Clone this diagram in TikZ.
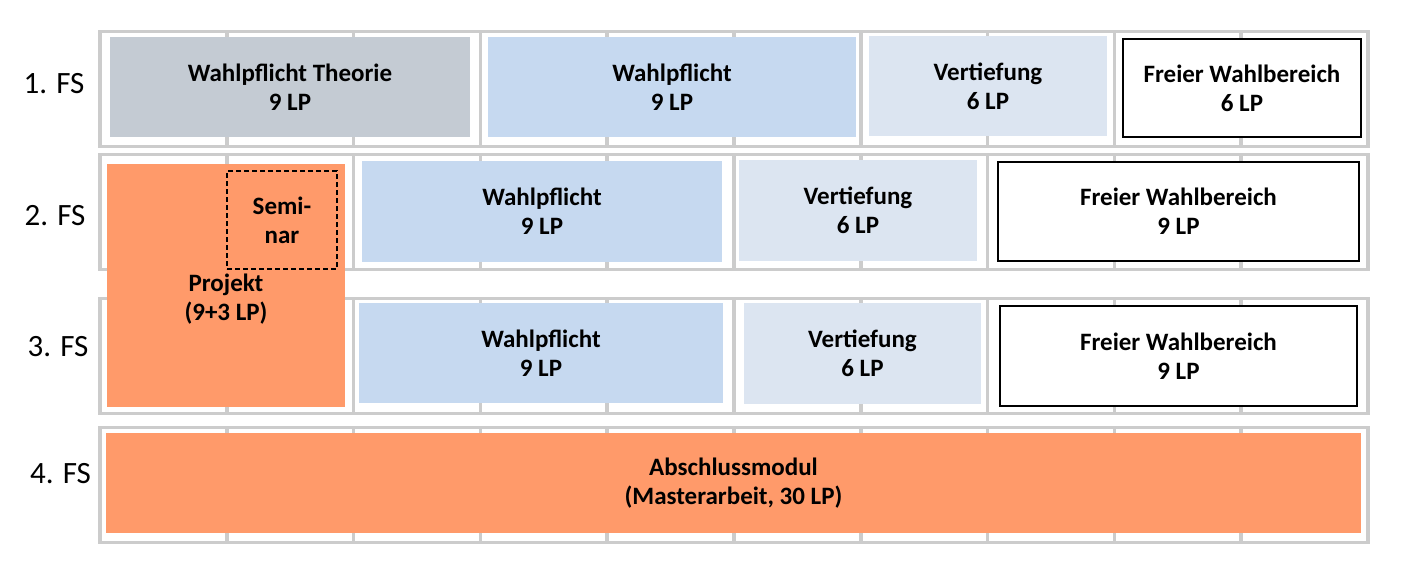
\documentclass[tikz,border=0pt]{standalone}
\usepackage{fontspec}
\setmainfont{Carlito}
\usepackage{tikz}
\definecolor{rastergrau}{HTML}{CCCCCC}
\definecolor{theoriegrau}{HTML}{C4CBD3}
\definecolor{wpblau}{HTML}{C6D9F0}
\definecolor{vtblau}{HTML}{DCE5F1}
\definecolor{projorange}{HTML}{FF9A6A}

\begin{document}
\begin{tikzpicture}[
  x=1pt,y=-1pt,
  raster/.style={draw=rastergrau,line width=3.5pt},
  modul/.style={inner sep=0pt,align=center,
               font=\fontsize{25}{29}\selectfont\bfseries},
  theorie/.style={modul,fill=theoriegrau},
  wahlpflicht/.style={modul,fill=wpblau},
  vertiefung/.style={modul,fill=vtblau},
  freiwahl/.style={modul,fill=white,draw=black,line width=2pt},
  orangebox/.style={modul,fill=projorange},
  seminarbox/.style={modul,draw=black,line width=2pt,dash pattern=on 5pt off 3pt},
  semester/.style={anchor=base,font=\fontsize{31}{37}\selectfont}
]
\useasboundingbox (0,0) rectangle (1419,560);

% Raster der Semesterzeilen
\foreach \ytop in {31.5,154.5,298.5,427.5}{
  \draw[raster] (100,\ytop) rectangle (1368,\ytop+115);
  \foreach \i in {1,...,9}
    \draw[raster] ({100+126.8*\i},\ytop) -- ++(0,115);
}

% Semesterbeschriftung
\node[semester] (fs1) at (54,93) {1. FS};
\node[semester] (fs2) at (55,225) {2. FS};
\node[semester] (fs3) at (58,356) {3. FS};
\node[semester] (fs4) at (60.5,483) {4. FS};

% 1. FS
\node[theorie,minimum width=360pt,minimum height=100pt] (wpt1) at (290,87) {Wahlpflicht Theorie\\9 LP};
\node[wahlpflicht,minimum width=368pt,minimum height=100pt] (wp1) at (672,87) {Wahlpflicht\\9 LP};
\node[vertiefung,minimum width=238pt,minimum height=100pt] (vt1) at (988,86) {Vertiefung\\6 LP};
\node[freiwahl,minimum width=238pt,minimum height=98pt] (fw1) at (1242,88) {Freier Wahlbereich\\6 LP};

% 2. und 3. FS
\node[orangebox,minimum width=238pt,minimum height=243pt] (proj) at (226,285.5) {};
\node[modul] (projtext) at (226,299) {Projekt\\(9+3 LP)};
\node[seminarbox,minimum width=110pt,minimum height=98pt] (sem) at (282,220) {Semi-\\nar};
\node[wahlpflicht,minimum width=360pt,minimum height=101pt] (wp2) at (542,211.5) {Wahlpflicht\\9 LP};
\node[vertiefung,minimum width=238pt,minimum height=101pt] (vt2) at (858,210.5) {Vertiefung\\6 LP};
\node[freiwahl,minimum width=361pt,minimum height=99pt] (fw2) at (1178.5,211.5) {Freier Wahlbereich\\9 LP};
\node[wahlpflicht,minimum width=364pt,minimum height=100pt] (wp3) at (541,353) {Wahlpflicht\\9 LP};
\node[vertiefung,minimum width=237pt,minimum height=101pt] (vt3) at (862.5,353.5) {Vertiefung\\6 LP};
\node[freiwahl,minimum width=357pt,minimum height=100pt] (fw3) at (1178.5,356) {Freier Wahlbereich\\9 LP};

% 4. FS
\node[orangebox,minimum width=1255pt,minimum height=100pt] (abschluss) at (733.5,483) {Abschlussmodul\\(Masterarbeit, 30 LP)};
\end{tikzpicture}
\end{document}
